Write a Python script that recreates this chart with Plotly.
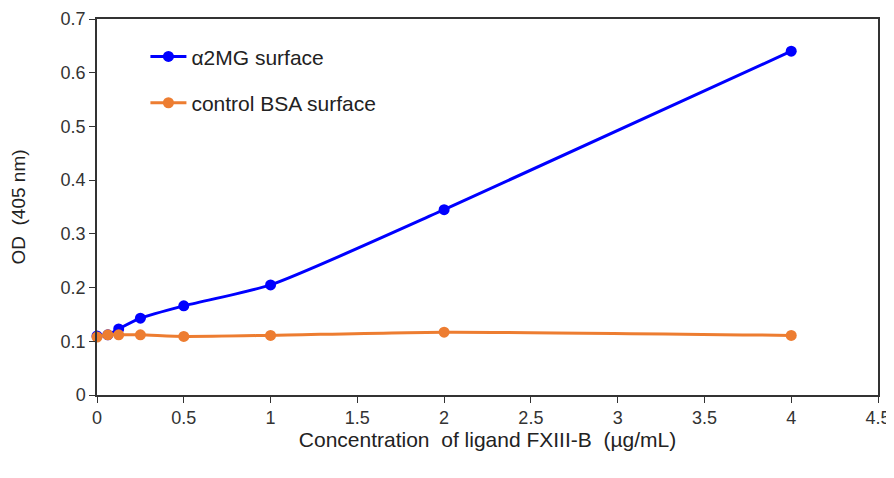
import plotly.graph_objects as go

conc = [0, 0.0625, 0.125, 0.25, 0.5, 1, 2, 4]
a2mg = [0.110, 0.112, 0.123, 0.143, 0.166, 0.205, 0.345, 0.640]
bsa = [0.108, 0.112, 0.112, 0.112, 0.109, 0.111, 0.117, 0.111]

fig = go.Figure()
fig.add_trace(go.Scatter(x=conc, y=a2mg, mode="lines+markers", name="α2MG surface",
                         line=dict(color="#0000FF", width=3, shape="spline", smoothing=0.6),
                         marker=dict(size=11, color="#0000FF"), legendgroup="a", cliponaxis=False))
fig.add_trace(go.Scatter(x=conc, y=bsa, mode="lines+markers", name="control BSA surface",
                         line=dict(color="#ED7D31", width=3, shape="spline", smoothing=0.6),
                         marker=dict(size=11, color="#ED7D31"), legendgroup="b", cliponaxis=False))

axis_common = dict(showline=True, linecolor="#333", linewidth=1.5, mirror=True,
                   ticks="outside", ticklen=6, tickcolor="#333", showgrid=False,
                   zeroline=False, automargin=False, tickfont=dict(size=18, color="#333"))

fig.update_layout(
    width=894, height=478,
    margin=dict(l=89, r=24, t=11, b=91),
    plot_bgcolor="white", paper_bgcolor="white",
    font=dict(family="Liberation Sans, Arial, sans-serif", size=18, color="#222"),
    showlegend=True,
    legend=dict(x=0.062, y=0.954, xanchor="left", yanchor="top", bgcolor="rgba(0,0,0,0)",
                tracegroupgap=16, itemwidth=36, font=dict(size=21, color="#222")),
    xaxis=dict(range=[0, 4.5], dtick=0.5, **axis_common,
               title=dict(text="Concentration  of ligand FXIII-B  (µg/mL)",
                          font=dict(size=21, color="#222"), standoff=0)),
    yaxis=dict(range=[0, 0.7], dtick=0.1, tickformat="~g", **axis_common,
               title=dict(text="OD  (405 nm)", font=dict(size=19, color="#222"), standoff=31)),
)

fig.write_html("out.html")
